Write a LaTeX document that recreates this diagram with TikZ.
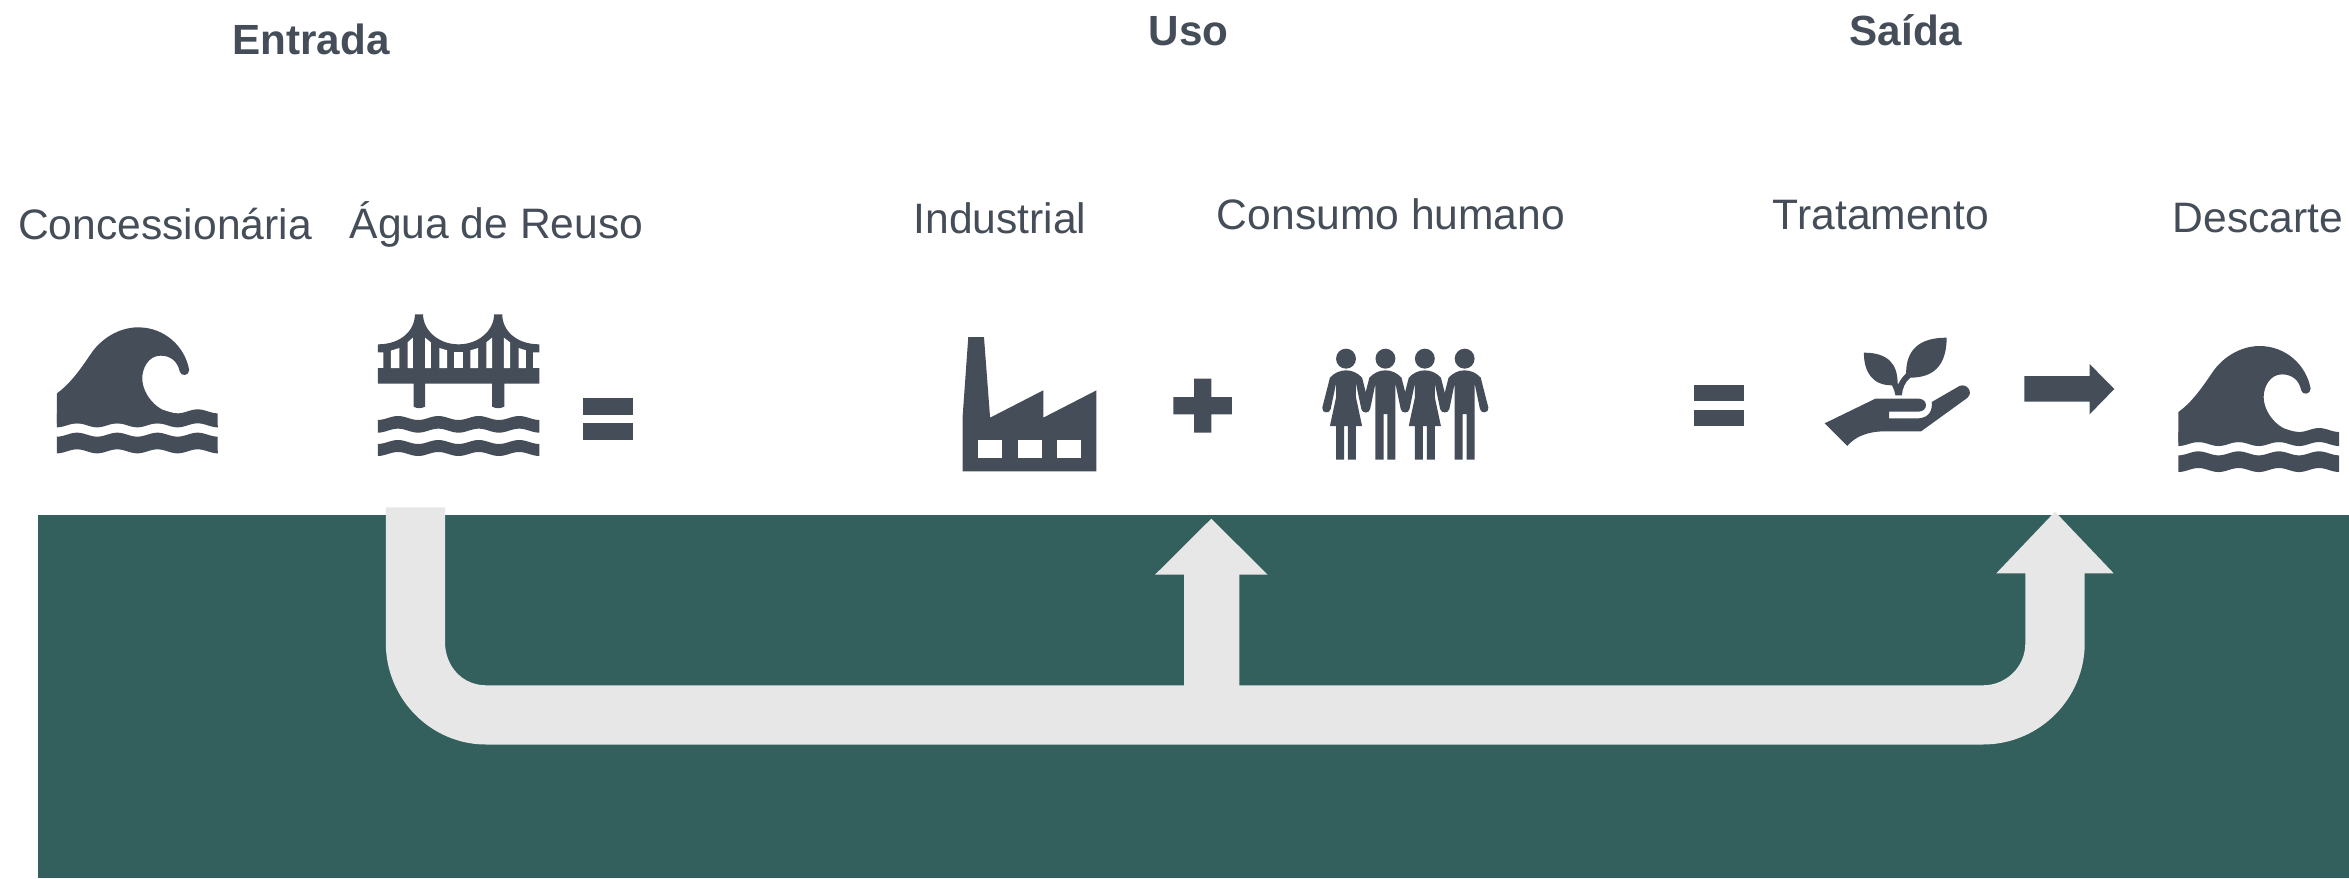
\documentclass[tikz,border=0pt]{standalone}
\usepackage{fontspec}
\setmainfont{Liberation Sans}
\definecolor{ink}{HTML}{454E58}
\definecolor{teal}{HTML}{33605D}
\definecolor{pale}{HTML}{E7E7E7}
\tikzset{
  heading/.style={anchor=base,text=ink,font=\fontsize{42.2}{48}\selectfont\bfseries,inner sep=0pt},
  label/.style={anchor=base,text=ink,font=\fontsize{42.6}{48}\selectfont,inner sep=0pt},
  icon/.style={fill=ink,draw=none},
  hole/.style={fill=white,draw=none}
}
% wavy band: x0, top, thickness, period
\newcommand{\wband}[4]{\fill[icon] plot[domain=0:4,samples=81,variable=\t] ({#1+#4*\t},{#2+6+6*cos(360*\t)}) -- plot[domain=4:0,samples=81,variable=\t] ({#1+#4*\t},{#2+#3+6+6*cos(360*\t)}) -- cycle;}
\newcommand{\waveicon}{%
  \fill[icon] (66,310) .. controls (100,280) and (125,235) .. (150,190)
    .. controls (172,150) and (215,112) .. (265,112)
    .. controls (330,112) and (380,170) .. (390,240)
    .. controls (390,258) and (370,260) .. (367,245)
    .. controls (362,215) and (345,197) .. (320,197)
    .. controls (290,197) and (275,235) .. (275,265)
    .. controls (275,310) and (310,370) .. (361,370)
    -- (361,400) -- (66,400) -- cycle;
  \wband{66}{358}{42}{98.5}
  \wband{66}{428}{50}{98.5}
}
\newcommand{\torso}{(-42,203) .. controls (-30,188) and (-15,181) .. (0,181)
    .. controls (15,181) and (30,188) .. (42,203)
    -- (62,293) .. controls (64,310) and (42,312) .. (40,297) -- (26,220)}
\newcommand{\armend}{-- (-26,220) -- (-40,297) .. controls (-42,312) and (-64,310) .. (-62,293) -- cycle}
\newcommand{\woman}[1]{\begin{scope}[shift={(#1,0)}]
  \fill[icon] (0,146) ellipse [x radius=26,y radius=30];
  \fill[icon] \torso -- (26,262) -- (42,348) -- (26,348) -- (26,449) -- (5,449) -- (5,348) -- (-5,348) -- (-5,449) -- (-26,449) -- (-26,348) -- (-42,348) -- (-26,262) \armend;
\end{scope}}
\newcommand{\man}[1]{\begin{scope}[shift={(#1,0)}]
  \fill[icon] (0,146) ellipse [x radius=26,y radius=30];
  \fill[icon] \torso -- (26,449) -- (5,449) -- (5,312) -- (-5,312) -- (-5,449) -- (-26,449) \armend;
\end{scope}}
\begin{document}
\begin{tikzpicture}[x=1pt,y=-1pt]
\useasboundingbox (0,0) rectangle (2349,878);
\fill[white] (0,0) rectangle (2349,878);
% panel
\fill[teal] (38,515) rectangle (2349,878);
% flow arrow
\fill[pale] (385.8,507.3) -- (445,507.3) -- (445,641.7)
  .. controls (445,667) and (463,685.3) .. (486,685.3)
  -- (1184,685.3) -- (1184,574.7) -- (1155,574.7) -- (1211.3,518.7) -- (1267.6,574.7) -- (1239.4,574.7) -- (1239.4,685.3)
  -- (1983,685.3) .. controls (2006,685.3) and (2025.3,667) .. (2025.3,643.3)
  -- (2025.3,573.3) -- (1996.3,573.3) -- (2055,511.7) -- (2113.7,573.3) -- (2084.7,573.3) -- (2084.7,643.3)
  .. controls (2084.7,699) and (2039,744.5) .. (1983,744.5)
  -- (486,744.5) .. controls (431,744.5) and (385.8,699) .. (385.8,643)
  -- cycle;
% texts
\node[heading] (entrada) at (311,54) {Entrada};
\node[heading] (uso) at (1188.5,45) {Uso};
\node[heading] (saida) at (1906,45) {Saída};
\node[label] (conc) at (165,239.5) {Concessionária};
\node[label] (reuso) at (496.5,238.5) {Água de Reuso};
\node[label] (indus) at (1000,233.5) {Industrial};
\node[label] (consumo) at (1391,229.5) {Consumo humano};
\node[label] (trat) at (1881,229.5) {Tratamento};
\node[label] (desc) at (2258,232.5) {Descarte};
% icons of the first group
\begin{scope}[shift={(30,290)},x=0.40816pt,y=-0.33333pt]
  \waveicon
  % bridge
  \fill[icon] (852,163) .. controls (910,163) and (943,120) .. (943,73) -- (963,73)
    .. controls (963,120) and (1000,163) .. (1050,163)
    .. controls (1100,163) and (1137,120) .. (1137,73) -- (1157,73)
    .. controls (1157,120) and (1190,163) .. (1248,163)
    -- (1248,187) -- (1232,187) -- (1232,234) -- (1248,234) -- (1248,281)
    -- (1162,281) -- (1162,350) .. controls (1152,356) and (1142,356) .. (1132,350) -- (1132,281)
    -- (968,281) -- (968,350) .. controls (958,356) and (948,356) .. (940,350) -- (940,281)
    -- (852,281) -- (852,234) -- (866,234) -- (866,187) -- (852,187) -- cycle;
  \fill[hole] (884,182) -- (905,174) -- (905,234) -- (884,234) -- cycle;
  \fill[hole] (925,157) -- (938,143) -- (938,234) -- (925,234) -- cycle;
  \fill[hole] (968,143) -- (982,157) -- (982,234) -- (968,234) -- cycle;
  \fill[hole] (1003,174) -- (1022,181) -- (1022,234) -- (1003,234) -- cycle;
  \fill[hole] (1040,187) -- (1060,187) -- (1060,234) -- (1040,234) -- cycle;
  \fill[hole] (1079,181) -- (1098,174) -- (1098,234) -- (1079,234) -- cycle;
  \fill[hole] (1118,157) -- (1132,143) -- (1132,234) -- (1118,234) -- cycle;
  \fill[hole] (1161,143) -- (1176,157) -- (1176,234) -- (1161,234) -- cycle;
  \fill[hole] (1197,174) -- (1215,181) -- (1215,234) -- (1197,234) -- cycle;
  \wband{852}{378}{38}{99}
  \wband{852}{450}{36}{99}
  % equals
  \fill[icon] (1355,325) rectangle (1478,375);
  \fill[icon] (1355,400) rectangle (1478,449);
\end{scope}
% factory, plus, people
\begin{scope}[shift={(930,310)},x=0.3827pt,y=-0.33333pt]
  \fill[icon] (100,81) -- (141,81) -- (157,323) -- (296,241) -- (296,323) -- (435,241) -- (435,484) -- (85,484) -- (85,323) -- cycle;
  \fill[hole] (125,389) rectangle (188,443);
  \fill[hole] (229,389) rectangle (292,443);
  \fill[hole] (332,389) rectangle (395,443);
  \fill[icon] (690,206) -- (735,206) -- (735,261) -- (789,261) -- (789,313) -- (735,313) -- (735,368) -- (690,368) -- (690,313) -- (636,313) -- (636,261) -- (690,261) -- cycle;
  \woman{1087}
  \man{1190}
  \woman{1293}
  \man{1397}
\end{scope}
% equals, hand, arrow
\begin{scope}[shift={(1680,310)},x=0.42662pt,y=-0.33333pt]
  \fill[icon] (32,225) rectangle (150,274);
  \fill[icon] (32,299) rectangle (150,348);
  \fill[icon] (339,340) -- (458,266) -- (560,266) .. controls (582,268) and (582,303) .. (560,305)
    -- (490,305) -- (490,325) -- (560,325) .. controls (585,322) and (592,300) .. (590,276)
    -- (655,228) .. controls (672,218) and (690,248) .. (672,265)
    -- (565,364) -- (480,364) .. controls (440,364) and (410,380) .. (392,408) -- cycle;
  \fill[icon] (505,256) .. controls (503,245) and (501,235) .. (497,226)
    .. controls (450,226) and (431,185) .. (431,128)
    .. controls (490,128) and (510,165) .. (510,220) -- (512,222)
    .. controls (516,210) and (522,200) .. (530,190)
    .. controls (530,120) and (560,83) .. (625,83)
    .. controls (625,150) and (605,203) .. (540,203)
    .. controls (528,215) and (521,235) .. (520,256) -- cycle;
  \fill[icon] (807,198) -- (960,198) -- (960,162) -- (1018,237) -- (960,313) -- (960,275) -- (807,275) -- cycle;
\end{scope}
% last wave
\begin{scope}[shift={(2151.4,308.7)},x=0.40816pt,y=-0.33333pt]
  \waveicon
\end{scope}
\end{tikzpicture}
\end{document}
